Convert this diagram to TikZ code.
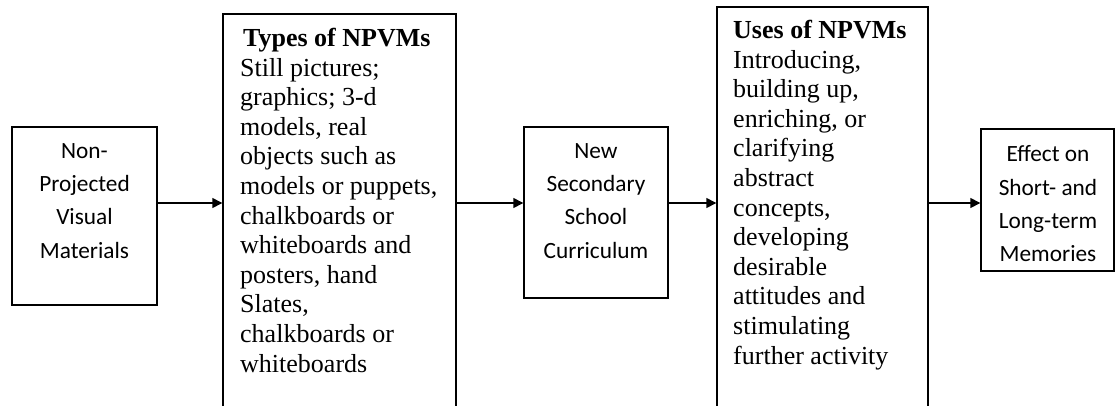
\documentclass[tikz,border=0pt]{standalone}
\usepackage{fontspec}
\setmainfont{Liberation Serif}
\newfontfamily\calibrifont{Carlito}
\usetikzlibrary{arrows.meta}

\begin{document}
\begin{tikzpicture}[x = 1pt, y = -1pt]
	\tikzstyle{boxStyle} = [draw, line width = 1.4pt, inner sep = 0pt]
	\tikzstyle{sansStyle} = [anchor = base, align = center, inner sep = 0pt, font = \calibrifont\fontsize{23.3}{33.3}\selectfont]
	\tikzstyle{serifStyle} = [anchor = base west, align = left, inner sep = 0pt, font = \fontsize{26}{29.6}\selectfont]
	\tikzstyle{arrowStyle} = [line width = 1.4pt, -{Triangle[length = 10pt, width = 10pt]}]
	\useasboundingbox (0,0) rectangle (1115,405);
	\node[boxStyle, minimum width = 145pt, minimum height = 178pt] (npvm) at (84.5,216) {};
	\node[boxStyle, minimum width = 233pt, minimum height = 406pt] (types) at (339.5,217) {};
	\node[boxStyle, minimum width = 144pt, minimum height = 171pt] (curriculum) at (596,212.5) {};
	\node[boxStyle, minimum width = 211pt, minimum height = 413pt] (uses) at (822.5,213.5) {};
	\node[boxStyle, minimum width = 133pt, minimum height = 142pt] (effect) at (1047.5,200) {};
	\node[sansStyle] (npvmText) at (84.5,258) {Non-\\Projected\\Visual\\Materials};
	\node[serifStyle] (typesText) at (240,372) {\hspace{3pt}\textbf{Types of NPVMs}\\Still pictures;\\graphics; 3-d\\models, real\\objects such as\\models or puppets,\\chalkboards or\\whiteboards and\\posters, hand\\Slates,\\chalkboards or\\whiteboards};
	\node[sansStyle] (curriculumText) at (596,258) {New\\Secondary\\School\\Curriculum};
	\node[serifStyle] (usesText) at (733,364) {\textbf{Uses of NPVMs}\\Introducing,\\building up,\\enriching, or\\clarifying\\abstract\\concepts,\\developing\\desirable\\attitudes and\\stimulating\\further activity};
	\node[sansStyle] (effectText) at (1048,261.7) {Effect on\\Short- and\\Long-term\\Memories};
	\coordinate (lvl) at (0,203);
	\draw[arrowStyle] (npvm.east |- lvl) -- (types.west |- lvl);
	\draw[arrowStyle] (types.east |- lvl) -- (curriculum.west |- lvl);
	\draw[arrowStyle] (curriculum.east |- lvl) -- (uses.west |- lvl);
	\draw[arrowStyle] (uses.east |- lvl) -- (effect.west |- lvl);
\end{tikzpicture}
\end{document}
